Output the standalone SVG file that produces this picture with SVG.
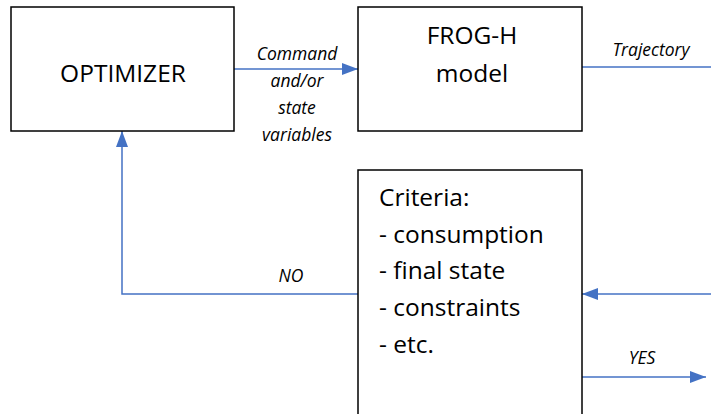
<svg xmlns="http://www.w3.org/2000/svg" width="711" height="414" viewBox="0 0 711 414">
<style>
.box{fill:#fff;stroke:#000;stroke-width:1.5}
.t{font-family:"Open Sans","Liberation Sans",sans-serif;font-size:24.5px;fill:#000}
.l{font-family:"Open Sans","Liberation Sans",sans-serif;font-size:17.5px;font-style:italic;fill:#000}
.c{fill:none;stroke:#4472C4;stroke-width:1.5}
</style>
<defs>
<marker id="ah2" markerWidth="16" markerHeight="12" refX="16" refY="6" orient="auto" markerUnits="userSpaceOnUse" viewBox="0 0 16 12">
<path d="M0,0 L16,6 L0,12 Z" fill="#4472C4"/>
</marker>
</defs>
<g id="connectors">
<path class="c" d="M234,69 H358" marker-end="url(#ah2)"/>
<path class="c" d="M582,67 H711"/>
<path class="c" d="M711,294 H582" marker-end="url(#ah2)"/>
<path class="c" d="M358,294 H122 V131" marker-end="url(#ah2)"/>
<path class="c" d="M582,377 H706" marker-end="url(#ah2)"/>
<text class="l" x="297" y="60" text-anchor="middle">Command</text>
<text class="l" x="297" y="87" text-anchor="middle">and/or</text>
<text class="l" x="297" y="114" text-anchor="middle">state</text>
<text class="l" x="297" y="141" text-anchor="middle">variables</text>
<text class="l" x="651" y="56" text-anchor="middle">Trajectory</text>
<text class="l" x="291" y="282" text-anchor="middle">NO</text>
<text class="l" x="642" y="364" text-anchor="middle">YES</text>
</g>
<g id="optimizer">
<rect class="box" x="11" y="7" width="223" height="124"/>
<text class="t" x="123" y="82" text-anchor="middle">OPTIMIZER</text>
</g>
<g id="frog">
<rect class="box" x="358" y="7" width="224" height="124"/>
<text class="t" x="472" y="44" text-anchor="middle">FROG-H</text>
<text class="t" x="472" y="82" text-anchor="middle">model</text>
</g>
<g id="criteria">
<rect class="box" x="358" y="170" width="224" height="260"/>
<text class="t" x="379" y="206">Criteria:</text>
<text class="t" x="379" y="243">- consumption</text>
<text class="t" x="379" y="279">- final state</text>
<text class="t" x="379" y="316">- constraints</text>
<text class="t" x="379" y="353">- etc.</text>
</g>
</svg>
